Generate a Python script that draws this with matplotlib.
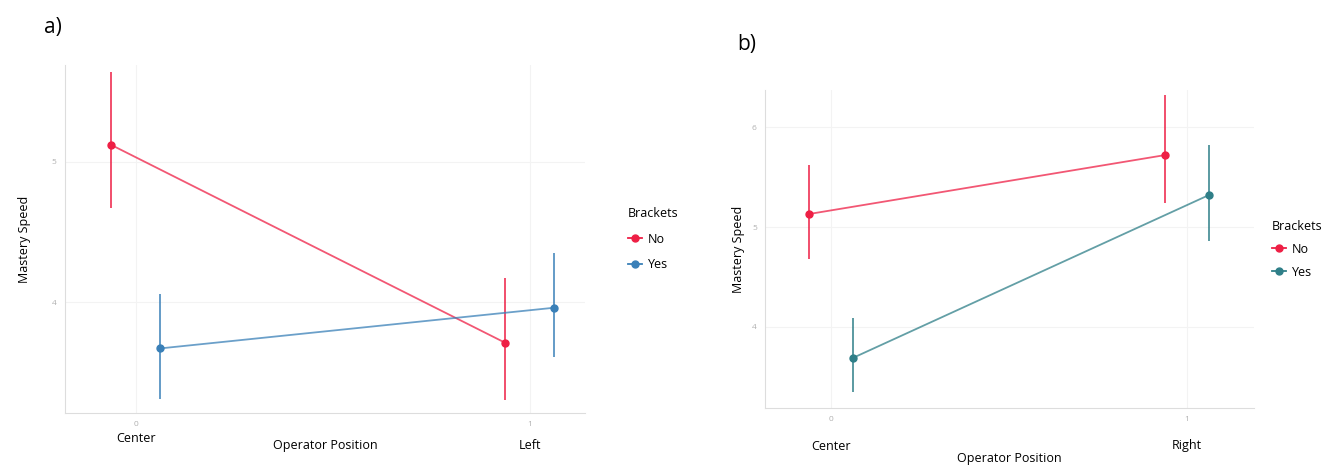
import matplotlib.pyplot as plt
from matplotlib.lines import Line2D
from matplotlib.transforms import blended_transform_factory as blend

plt.rcParams['font.family'] = ['Open Sans', 'DejaVu Sans']

groups = ['No', 'Yes']
positions = [0, 1]

# panel a) Center vs Left
a_mean = {'No': [5.12, 3.71], 'Yes': [3.67, 3.96]}
a_low = {'No': [4.67, 3.30], 'Yes': [3.31, 3.61]}
a_high = {'No': [5.64, 4.17], 'Yes': [4.06, 4.35]}
a_labels = ['Center', 'Left']

# panel b) Center vs Right
b_mean = {'No': [5.13, 5.72], 'Yes': [3.69, 5.32]}
b_low = {'No': [4.68, 5.24], 'Yes': [3.35, 4.86]}
b_high = {'No': [5.62, 6.32], 'Yes': [4.09, 5.82]}
b_labels = ['Center', 'Right']

red = '#ee1f45'
a_colors = {'No': red, 'Yes': '#3a80b8'}
b_colors = {'No': red, 'Yes': '#2f7f88'}
dodge = {'No': -0.062, 'Yes': 0.062}

fig = plt.figure(figsize=(13.26, 4.65), dpi=100)


def panel(rect, mean, low, high, colors, labels, yticks, ylim, xlim, tag, tagpos,
          leg_anchor, leg_space, xlab_y, ypad):
    ax = fig.add_axes(rect)
    for g in groups:
        xs = [p + dodge[g] for p in positions]
        ax.plot(xs, mean[g], color=colors[g], lw=1.3, alpha=0.75, zorder=3)
        ax.vlines(xs, low[g], high[g], color=colors[g], lw=1.3, alpha=0.85, zorder=3)
        ax.plot(xs, mean[g], 'o', color=colors[g], ms=5, zorder=4)
    ax.set_xlim(*xlim)
    ax.set_ylim(*ylim)
    ax.set_xticks(positions)
    ax.set_xticklabels(['0', '1'])
    ax.set_yticks(yticks)
    ax.tick_params(length=0, labelsize=6, labelcolor='#b0b0b0', pad=6)
    for s in ['top', 'right']:
        ax.spines[s].set_visible(False)
    for s in ['left', 'bottom']:
        ax.spines[s].set_color('#dddddd')
    ax.grid(True, color='#f3f3f3', lw=0.8)
    ax.set_axisbelow(True)
    ax.set_ylabel('Mastery Speed', fontsize=9, labelpad=ypad)
    tr = blend(ax.transData, fig.transFigure)
    ax.text(positions[0], xlab_y[0], labels[0], transform=tr, ha='center', va='center', fontsize=9)
    ax.text(positions[1], xlab_y[1], labels[1], transform=tr, ha='center', va='center', fontsize=9)
    ax.text(0.5, xlab_y[2], 'Operator Position', transform=blend(ax.transAxes, fig.transFigure),
            ha='center', va='center', fontsize=9)
    fig.text(tagpos[0], tagpos[1], tag, fontsize=15, ha='left', va='center')
    handles = [Line2D([], [], color=colors[g], marker='o', ms=5, lw=1.3) for g in groups]
    leg = ax.legend(handles, groups, title='Brackets', loc='center left',
                    bbox_to_anchor=leg_anchor, frameon=False, fontsize=9,
                    title_fontsize=9, handlelength=1.1, handletextpad=0.5,
                    borderaxespad=0, borderpad=0, labelspacing=leg_space)
    leg._legend_box.align = 'left'
    return ax


panel([0.049, 0.112, 0.392, 0.748], a_mean, a_low, a_high, a_colors, a_labels,
      [4, 5], (3.21, 5.69), (-0.18, 1.14), 'a)', (0.033, 0.94), (1.083, 0.5), 1.0,
      (0.058, 0.043, 0.043), 15)
panel([0.577, 0.123, 0.369, 0.683], b_mean, b_low, b_high, b_colors, b_labels,
      [4, 5, 6], (3.19, 6.37), (-0.185, 1.19), 'b)', (0.556, 0.905), (1.036, 0.5), 0.8,
      (0.04, 0.043, 0.015), 5)

fig.savefig('out.png', dpi=100)
